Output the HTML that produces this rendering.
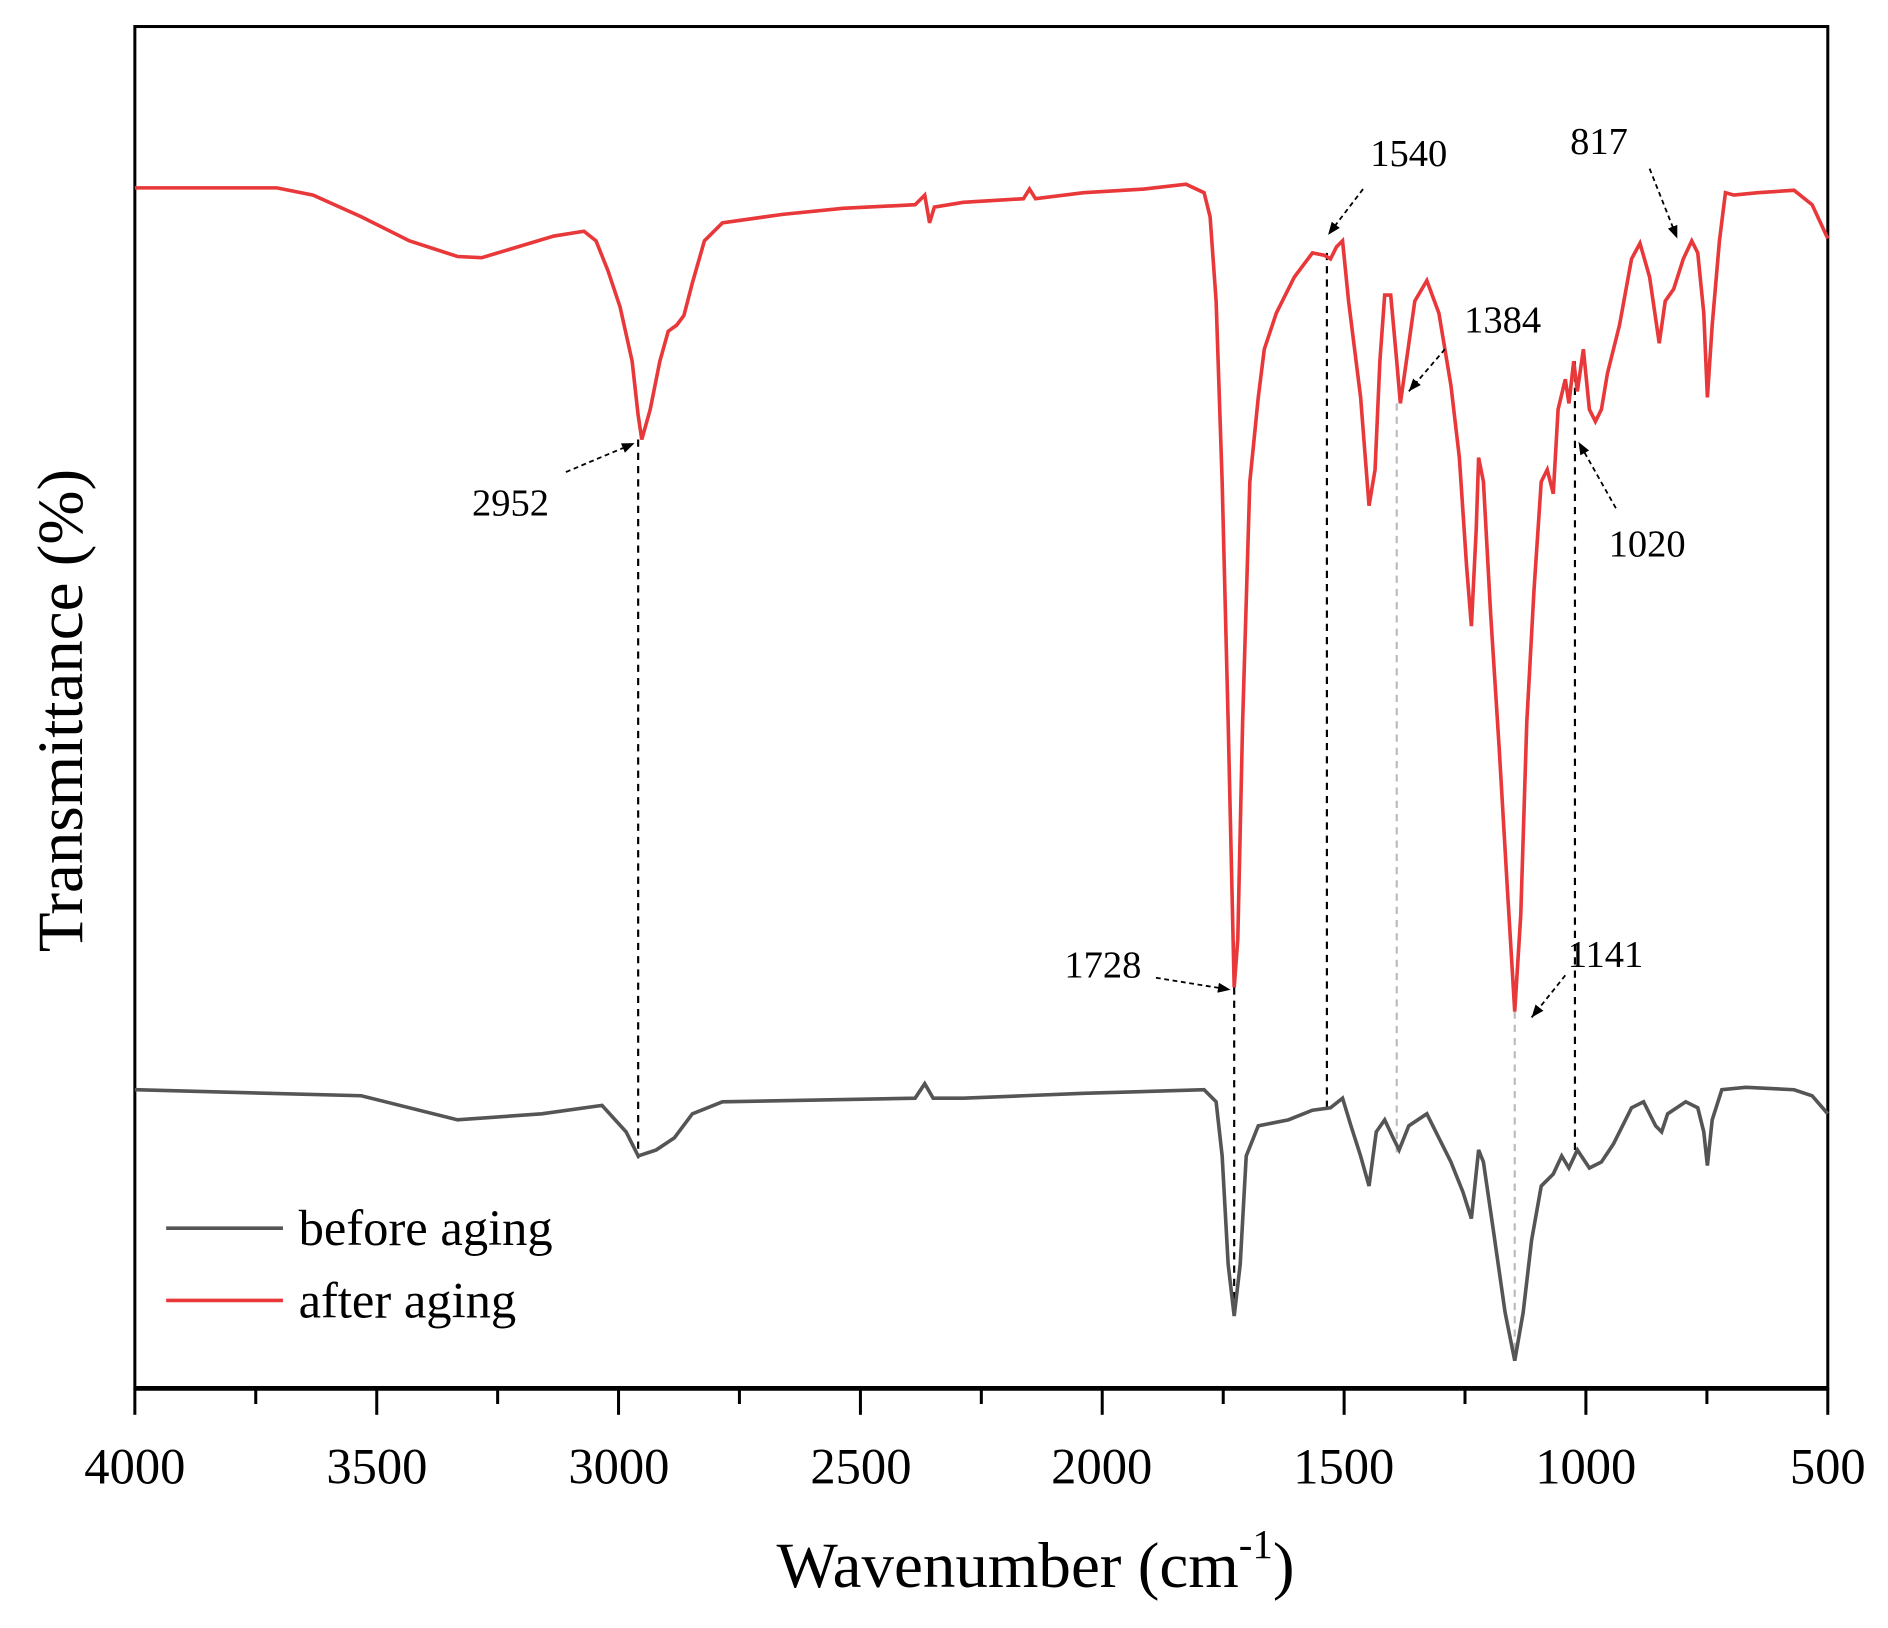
<!DOCTYPE html>
<html><head><meta charset="utf-8"><style>html,body{margin:0;padding:0;background:#fff}svg{display:block}</style></head><body>
<svg width="1888" height="1628" viewBox="0 0 1568 1352" xmlns="http://www.w3.org/2000/svg" font-family="Liberation Serif, serif">
<defs><marker id="ar" viewBox="0 0 10 10" refX="10" refY="5" markerWidth="7" markerHeight="7" orient="auto"><path d="M0,1 L10,5 L0,9 z" fill="#000"/></marker></defs>
<rect x="112" y="22" width="1406" height="1131" fill="none" stroke="#000" stroke-width="2.5"/>
<line x1="112" y1="1153" x2="1518" y2="1153" stroke="#000" stroke-width="4"/>
<g stroke="#000" stroke-width="2.5">
<line x1="112" y1="1153" x2="112" y2="1175"/><line x1="212.4" y1="1153" x2="212.4" y2="1166"/>
<line x1="312.9" y1="1153" x2="312.9" y2="1175"/><line x1="413.3" y1="1153" x2="413.3" y2="1166"/>
<line x1="513.7" y1="1153" x2="513.7" y2="1175"/><line x1="614.1" y1="1153" x2="614.1" y2="1166"/>
<line x1="714.6" y1="1153" x2="714.6" y2="1175"/><line x1="815" y1="1153" x2="815" y2="1166"/>
<line x1="915.4" y1="1153" x2="915.4" y2="1175"/><line x1="1015.9" y1="1153" x2="1015.9" y2="1166"/>
<line x1="1116.3" y1="1153" x2="1116.3" y2="1175"/><line x1="1216.7" y1="1153" x2="1216.7" y2="1166"/>
<line x1="1317.1" y1="1153" x2="1317.1" y2="1175"/><line x1="1417.6" y1="1153" x2="1417.6" y2="1166"/>
<line x1="1518" y1="1153" x2="1518" y2="1175"/>
</g>
<g font-size="42" text-anchor="middle" fill="#000">
<text x="112" y="1232">4000</text><text x="313" y="1232">3500</text><text x="514" y="1232">3000</text><text x="715" y="1232">2500</text><text x="915" y="1232">2000</text><text x="1116" y="1232">1500</text><text x="1317" y="1232">1000</text><text x="1518" y="1232">500</text>
</g>
<text x="860" y="1318" font-size="54" text-anchor="middle">Wavenumber (cm<tspan dy="-24" font-size="34">-1</tspan><tspan dy="24">)</tspan></text>
<text transform="translate(68,590) rotate(-90)" font-size="54" text-anchor="middle">Transmittance (%)</text>
<g stroke-dasharray="6,5" stroke-width="1.8" fill="none">
<line x1="530" y1="365" x2="530" y2="962" stroke="#000"/>
<line x1="1025" y1="820" x2="1025" y2="1093" stroke="#000"/>
<line x1="1102" y1="210" x2="1102" y2="920" stroke="#000"/>
<line x1="1160" y1="335" x2="1160" y2="960" stroke="#bbb"/>
<line x1="1258" y1="840" x2="1258" y2="1130" stroke="#bbb"/>
<line x1="1308" y1="300" x2="1308" y2="955" stroke="#000"/>
</g>
<polyline fill="none" stroke="#555" stroke-width="3" points="112,905 300,910 380,930 450,925 500,918 520,940 530,960 545,955 560,945 575,925 600,915 760,912 768,900 775,912 800,912 850,910 900,908 1000,905 1010,915 1015,960 1020,1050 1025,1093 1030,1050 1035,960 1045,935 1070,930 1090,922 1105,920 1115,912 1122,935 1130,960 1137,985 1143,940 1150,930 1157,945 1162,955 1170,935 1185,925 1195,945 1205,965 1215,990 1222,1012 1228,955 1232,965 1240,1020 1250,1090 1258,1130 1265,1090 1272,1030 1280,985 1290,975 1297,960 1303,970 1310,955 1320,970 1330,965 1340,950 1355,920 1365,915 1375,935 1380,940 1385,925 1400,915 1410,920 1415,940 1418,968 1422,930 1430,905 1450,903 1490,905 1505,910 1518,925"/>
<polyline fill="none" stroke="#e8383a" stroke-width="3" points="112,156 230,156 260,162 300,180 340,200 380,213 400,214 430,205 460,196 485,192 495,200 505,225 515,255 525,300 530,345 533,365 540,340 548,300 555,275 562,270 568,262 575,235 585,200 600,185 650,178 700,173 760,170 768,162 772,185 776,172 800,168 850,165 855,157 860,165 900,160 950,157 985,153 1000,160 1005,180 1010,250 1015,400 1020,600 1025,820 1028,780 1032,600 1038,400 1045,330 1050,290 1060,260 1075,230 1090,210 1100,212 1105,215 1110,205 1115,200 1120,250 1130,330 1137,420 1142,390 1146,300 1150,245 1155,245 1160,300 1163,335 1168,300 1175,250 1185,233 1195,260 1205,320 1212,380 1218,470 1222,520 1226,440 1228,380 1232,400 1238,510 1245,620 1252,740 1258,840 1263,760 1268,600 1274,490 1280,400 1285,390 1290,410 1294,340 1300,315 1303,335 1307,300 1310,325 1315,290 1320,340 1325,350 1330,340 1335,310 1345,270 1355,215 1362,202 1370,230 1378,285 1383,250 1390,240 1398,215 1405,200 1410,210 1415,260 1418,330 1422,270 1428,200 1433,160 1440,162 1460,160 1490,158 1505,170 1518,198"/>
<g stroke="#000" stroke-width="1.5" stroke-dasharray="4,3" marker-end="url(#ar)">
<line x1="470" y1="392" x2="527" y2="368"/>
<line x1="960" y1="812" x2="1022" y2="822"/>
<line x1="1132" y1="157" x2="1103" y2="195"/>
<line x1="1200" y1="290" x2="1170" y2="325"/>
<line x1="1300" y1="810" x2="1272" y2="845"/>
<line x1="1342" y1="422" x2="1311" y2="367"/>
<line x1="1370" y1="140" x2="1393" y2="198"/>
</g>
<g font-size="32" fill="#000">
<text x="392" y="428">2952</text><text x="884" y="812">1728</text><text x="1138" y="138">1540</text><text x="1216" y="276">1384</text><text x="1302" y="803">1141</text><text x="1336" y="462">1020</text><text x="1304" y="128">817</text>
</g>
<line x1="138" y1="1020" x2="235" y2="1020" stroke="#555" stroke-width="3"/>
<line x1="138" y1="1080" x2="235" y2="1080" stroke="#e8383a" stroke-width="3"/>
<g font-size="42" fill="#000"><text x="248" y="1034">before aging</text><text x="248" y="1094">after aging</text></g>
</svg>
</body></html>
